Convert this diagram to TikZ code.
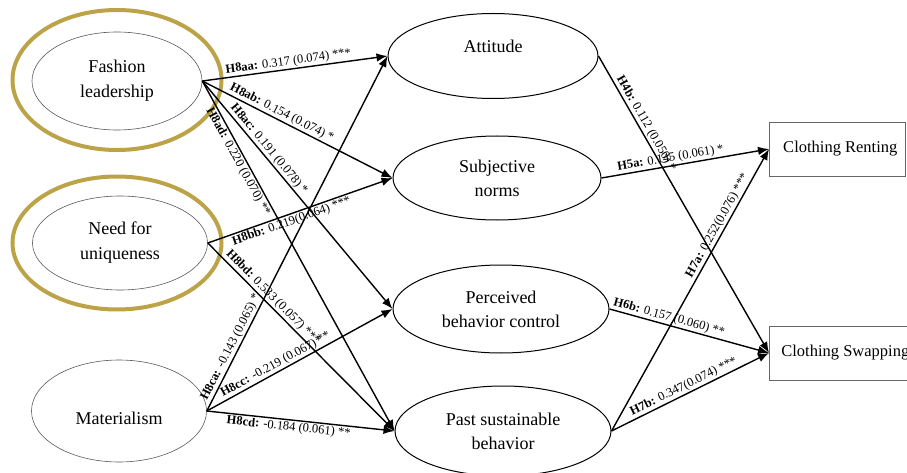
\documentclass[tikz,border=0pt]{standalone}
\usepackage{fontspec}
\setmainfont{Liberation Serif}
\usetikzlibrary{shapes.geometric,arrows.meta}
\definecolor{halogold}{RGB}{188,163,72}
\tikzset{
  antecedent/.style={ellipse, draw=black!65, line width=0.6pt, inner sep=0pt, align=center,
    font=\fontsize{18}{25}\selectfont},
  halo/.style={ellipse, draw=halogold, line width=4pt, inner sep=0pt},
  construct/.style={ellipse, draw=black, line width=1pt, inner sep=0pt, align=center,
    font=\fontsize{18}{24}\selectfont},
  outcome/.style={rectangle, draw=black!60, line width=0.6pt, anchor=west, minimum height=54pt,
    inner sep=0pt, font=\fontsize{16.5}{20}\selectfont},
  link/.style={draw=black, line width=1.4pt, -{Latex[length=11pt,width=8.5pt]}},
  coef/.style={sloped, font=\fontsize{12.5}{14}\selectfont, inner sep=1.2pt},
}
\begin{document}
\begin{tikzpicture}[x=1pt,y=-1pt]
\useasboundingbox (0,0) rectangle (907,473);

% antecedents, two of them highlighted
\node[halo, minimum width=209pt, minimum height=140pt] (flhalo) at (117,80) {};
\node[antecedent, minimum width=170pt, minimum height=98pt] (fl) at (117,81)
  {\raisebox{4pt}{Fashion}\\\raisebox{4pt}{leadership}};
\node[halo, minimum width=209pt, minimum height=133pt] (nuhalo) at (117,243) {};
\node[antecedent, minimum width=175pt, minimum height=94pt] (nu) at (120,243)
  {Need for\\uniqueness};
\node[antecedent, minimum width=175pt, minimum height=102pt,
  label={[font=\fontsize{18}{24}\selectfont, yshift=-7pt]center:Materialism}] (mat) at (119,411) {};

% mediating constructs
\node[construct, minimum width=210pt, minimum height=85pt,
  label={[font=\fontsize{18}{24}\selectfont, yshift=10pt]center:Attitude}] (att) at (493,56) {};
\node[construct, minimum width=208pt, minimum height=84pt] (sn) at (497,178) {Subjective\\norms};
\node[construct, minimum width=216pt, minimum height=88pt] (pbc) at (501,309) {Perceived\\behavior control};
\node[construct, minimum width=216pt, minimum height=90pt] (psb) at (503,431) {Past sustainable\\behavior};

% outcomes
\node[outcome, minimum width=136pt] (rent) at (769,149) {\hspace*{6pt}Clothing Renting};
\node[outcome, minimum width=152pt] (swap) at (769,353) {Clothing Swapping};

% paths from the antecedents
\draw[link] (fl.east) -- node[coef, pos=0.47, above] {\textbf{H8aa:} 0.317 (0.074) ***} (att.west);
\draw[link] (fl.east) -- node[coef, pos=0.40, above] {\textbf{H8ab:} 0.154 (0.074) *} (sn.west);
\draw[link] (fl.east) -- node[coef, pos=0.32, above] {\textbf{H8ac:} 0.191 (0.078) *} (pbc.west);
\draw[link] (fl.east) -- node[coef, pos=0.22, below] {\textbf{H8ad:} 0.220 (0.070) **} (psb.west);

\draw[link] (nu.east) -- node[coef, pos=0.44, below] {\textbf{H8bb:} 0.219(0.064) ***} (sn.west);
\draw[link] (nu.east) -- node[coef, pos=0.32, above] {\textbf{H8bd:} 0.533 (0.057) ***} (psb.west);

\draw[link] (mat.east) -- node[coef, pos=0.17, above] {\textbf{H8ca:} -0.143 (0.065) *} (att.west);
\draw[link] (mat.east) -- node[coef, pos=0.39, above] {\textbf{H8cc:} -0.219 (0.067) **} (pbc.west);
\draw[link] (mat.east) -- node[coef, pos=0.44, below] {\textbf{H8cd:} -0.184 (0.061) **} (psb.west);

% paths to the outcomes
\draw[link] (att.east) -- node[coef, pos=0.24, above] {\textbf{H4b:} 0.112 (0.050) *} (swap.west);
\draw[link] (sn.east) -- node[coef, pos=0.42, above] {\textbf{H5a:} 0.145 (0.061) *} (rent.west);
\draw[link] (pbc.east) -- node[coef, pos=0.36, above] {\textbf{H6b:} 0.157 (0.060) **} (swap.west);
\draw[link] (psb.east) -- node[coef, pos=0.715, above] {\textbf{H7a:} 0.252(0.076) ***} (rent.west);
\draw[link] (psb.east) -- node[coef, pos=0.48, above] {\textbf{H7b:} 0.347(0.074) ***} (swap.west);
\end{tikzpicture}
\end{document}
